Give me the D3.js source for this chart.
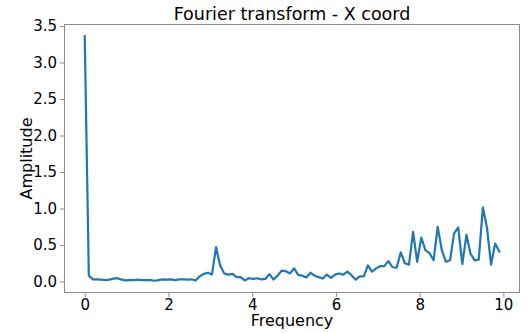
<!DOCTYPE html>
<html>
<head>
<meta charset="utf-8">
<script src="https://cdn.jsdelivr.net/npm/d3@7"></script>
<style>
  html, body { margin: 0; padding: 0; background: #fff; }
  svg { display: block; }
  text { font-family: "DejaVu Sans", sans-serif; fill: #000; }
</style>
</head>
<body>
<svg id="chart" width="527" height="333"></svg>
<script>
// ---- data ----
const title = "Fourier transform - X coord";
const xLabel = "Frequency";
const yLabel = "Amplitude";
const freqStep = 20 / 204;   // spacing of the frequency bins
const amplitude = [
  3.36, 0.08, 0.03, 0.03, 0.025, 0.02, 0.025, 0.04, 0.045, 0.025,
  0.015, 0.02, 0.02, 0.025, 0.02, 0.02, 0.02, 0.01, 0.02, 0.03,
  0.025, 0.03, 0.02, 0.03, 0.03, 0.025, 0.03, 0.013, 0.07, 0.105,
  0.12, 0.095, 0.47, 0.22, 0.11, 0.095, 0.105, 0.06, 0.06, 0.015,
  0.045, 0.035, 0.045, 0.03, 0.035, 0.1, 0.027, 0.08, 0.15, 0.14,
  0.11, 0.18, 0.09, 0.08, 0.055, 0.12, 0.08, 0.06, 0.04, 0.095,
  0.05, 0.095, 0.11, 0.095, 0.135, 0.085, 0.025, 0.07, 0.07, 0.22,
  0.135, 0.18, 0.21, 0.21, 0.28, 0.195, 0.19, 0.4, 0.25, 0.23,
  0.68, 0.27, 0.6, 0.43, 0.39, 0.29, 0.75, 0.43, 0.27, 0.29,
  0.66, 0.74, 0.24, 0.64, 0.38, 0.29, 0.3, 1.015, 0.74, 0.23,
  0.52, 0.41
];
const xTicks = [0, 2, 4, 6, 8, 10];
const yTicks = [0.0, 0.5, 1.0, 1.5, 2.0, 2.5, 3.0, 3.5];

// ---- layout ----
const W = 527, H = 333;
const m = { left: 64, right: 7, top: 24, bottom: 40 };
const svg = d3.select("#chart");

const points = amplitude.map((a, i) => ({ f: i * freqStep, a }));
const fMax = d3.max(points, d => d.f);
const aMin = d3.min(amplitude), aMax = d3.max(amplitude);
const xPad = fMax * 0.05, yPad = (aMax - aMin) * 0.05;

const x = d3.scaleLinear().domain([-xPad, fMax + xPad]).range([m.left, W - m.right]);
const y = d3.scaleLinear().domain([aMin - yPad, aMax + yPad]).range([H - m.bottom, m.top]);

// line
const line = d3.line().x(d => x(d.f)).y(d => y(d.a));
svg.append("path")
  .datum(points)
  .attr("fill", "none")
  .attr("stroke", "#1f77b4")
  .attr("stroke-width", 2.2)
  .attr("stroke-linejoin", "round")
  .attr("stroke-linecap", "square")
  .attr("d", line);

// frame
svg.append("rect")
  .attr("x", m.left + 0.5).attr("y", m.top + 0.5)
  .attr("width", W - m.right - m.left - 1)
  .attr("height", H - m.bottom - m.top - 1)
  .attr("fill", "none").attr("stroke", "#8c8c8c").attr("stroke-width", 1);

// axes
const xAxis = svg.append("g")
  .attr("transform", `translate(0,${H - m.bottom})`)
  .call(d3.axisBottom(x).tickValues(xTicks).tickFormat(d3.format("d")).tickSize(4).tickPadding(2));
const yAxis = svg.append("g")
  .attr("transform", `translate(${m.left},0)`)
  .call(d3.axisLeft(y).tickValues(yTicks).tickFormat(d3.format(".1f")).tickSize(4).tickPadding(3));
[xAxis, yAxis].forEach(g => {
  g.select(".domain").remove();
  g.selectAll(".tick line").attr("stroke", "#8c8c8c");
  g.selectAll(".tick text").attr("font-size", 15).attr("fill", "#1a1a1a")
    .style("font-family", '"DejaVu Sans", sans-serif');
});

// labels
svg.append("text").attr("x", (m.left + W - m.right) / 2).attr("y", 20)
  .attr("text-anchor", "middle").attr("font-size", 17.5).text(title);
svg.append("text").attr("x", (m.left + W - m.right) / 2).attr("y", 326)
  .attr("text-anchor", "middle").attr("font-size", 16).text(xLabel);
svg.append("text")
  .attr("transform", `translate(32,${(m.top + H - m.bottom) / 2}) rotate(-90)`)
  .attr("text-anchor", "middle").attr("font-size", 16).text(yLabel);
</script>
</body>
</html>
